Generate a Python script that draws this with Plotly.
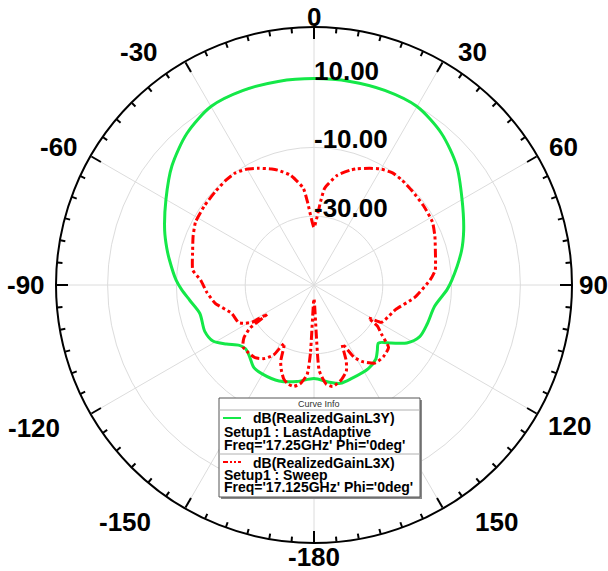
import math
import plotly.graph_objects as go

# ---------------- data ----------------
theta_l3y = [-180, -170, -160, -150, -144, -138, -133, -129, -124, -119, -113, -104, -97, -92, -88,
             -80, -76, -70, -60, -50, -40, -30, -20, -10, 0, 10, 20, 30, 40, 50, 60, 70, 77,
             88, 92, 100, 109, 116, 122, 127, 132, 136, 140, 147, 158, 165, 171, 180]
gain_l3y = [-22.8, -21.5, -20.3, -20.1, -20.3, -22.0, -22.8, -22.1, -19.3, -16.4, -15.5, -15.8, -13.6, -11.5, -9.9,
            -7.3, -5.9, -3.8, -0.3, 3.9, 7.5, 9.9, 10.2, 10.1, 10.0, 10.1, 10.2, 9.9, 7.6, 4.1, -0.3, -3.7, -6.0,
            -9.9, -11.3, -14.4, -15.2, -15.8, -18.2, -22.0, -24.8, -23.5, -22.0, -21.0, -20.7, -20.4, -21.4, -22.8]

theta_l3x = [-180, -177, -175.6, -172, -168.5, -165, -162, -159, -156.4, -153, -150, -146, -141, -136, -131,
             -127, -124, -122, -121, -119, -116.5, -109, -100.5, -94, -87.5, -83, -74, -68, -62, -54, -46.5, -40, -35,
             -30, -25.5, -20, -17.5, -12, -6.3, -4.5, 0, 4.5, 6.3, 12, 17.5, 20, 25.5, 30, 35, 40, 46.5, 54, 62, 68, 74,
             83, 87.5, 97, 107, 113, 119, 121, 123, 126, 130, 136, 142, 148, 151, 154.4, 157, 159.5, 164, 169.6,
             173, 176.5, 180]
gain_l3x = [-46, -30, -23.9, -21, -19.9, -20.3, -21.4, -23.5, -25.8, -31, -26.5, -24.2, -22.8, -22.6, -22.6,
            -24.5, -27.5, -34, -29, -27, -25.5, -24.7, -20.8, -18.8, -17, -14.5, -13.3, -12.1, -11, -10.7, -10.5, -10.2, -10.2,
            -11.1, -12.4, -14.1, -15, -17.4, -21.7, -25.7, -33.2, -25.7, -21.7, -17.4, -15, -14.1, -12.4, -11.1, -10.2, -10.2,
            -10.5, -10.7, -11, -12.1, -13.3,
            -14.5, -16.2, -20.5, -25.3, -26.5, -27.6, -31.5, -28, -25.8, -21.7, -21.0, -21.2, -23.8, -26, -31, -26, -23.2,
            -21.3, -20, -21, -25, -46]

angle_ticks = [0, 30, 60, 90, 120, 150, 180, 210, 240, 270, 300, 330]
angle_labels = ["0", "30", "60", "90", "120", "150", "-180", "-150", "-120", "-90", "-60", "-30"]
minor_ticks = [a for a in range(0, 360, 5) if a % 30 != 0]
radial_ticks = [-30, -10, 10]
radial_labels = ["-30.00", "-10.00", "10.00"]
radial_range = [-50, 25]

series_names = ["dB(RealizedGainL3Y)", "dB(RealizedGainL3X)"]
series_setup = ["Setup1 : LastAdaptive", "Setup1 : Sweep"]
series_freq = ["Freq='17.25GHz' Phi='0deg'", "Freq='17.125GHz' Phi='0deg'"]

GREEN = "rgb(20,232,72)"
RED = "rgb(255,0,0)"
FONT = "Liberation Sans, Arial, sans-serif"

W, H = 608, 571
cx, cy, R = 314, 285, 258


def px(x):
    return x / W


def py(y):
    return 1 - y / H


dom = dict(x=[px(cx - R), px(cx + R)], y=[py(cy + R), py(cy - R)])
label_lift = 1.6  # dB: radial labels sit just above their circle

# angular label placement style: angle -> (distance from centre px, xanchor, horizontal nudge px)
label_style = {
    0: (268, "center", 0), 30: (269, "left", 7), 60: (276, "left", -6), 90: (263, "left", 0),
    120: (282, "left", -12), 150: (274, "left", 22), 180: (272, "center", 0), 210: (274, "right", -24),
    240: (286, "right", -4), 270: (267, "right", 0), 300: (276, "right", 5), 330: (269, "right", -19),
}

fig = go.Figure()
fig.add_trace(go.Scatterpolar(r=gain_l3y, theta=theta_l3y, mode="lines",
                              line=dict(color=GREEN, width=3, shape="spline", smoothing=0.8),
                              subplot="polar", name=series_names[0]))
fig.add_trace(go.Scatterpolar(r=gain_l3x, theta=theta_l3x, mode="lines",
                              line=dict(color=RED, width=3, dash="9px,3px,3px,3px,3px,3px",
                                        shape="spline", smoothing=0.5),
                              subplot="polar", name=series_names[1]))
fig.add_trace(go.Scatterpolar(r=[v + label_lift for v in radial_ticks], theta=[0] * len(radial_ticks),
                              mode="text", text=radial_labels, textposition="middle right",
                              textfont=dict(family=FONT, size=26, color="black", weight="bold"),
                              subplot="polar", hoverinfo="skip"))

fig.update_layout(
    width=W, height=H, margin=dict(l=0, r=0, t=0, b=0),
    paper_bgcolor="white", showlegend=False,
    polar=dict(
        domain=dom, bgcolor="white",
        radialaxis=dict(range=radial_range, tickvals=radial_ticks, showticklabels=False, ticks="",
                        showline=False, gridcolor="#dcdcdc", gridwidth=1, angle=90),
        angularaxis=dict(rotation=90, direction="clockwise", tickvals=angle_ticks, showticklabels=False,
                         ticks="inside", ticklen=11, tickwidth=1.5, tickcolor="black",
                         showline=True, linecolor="black", linewidth=2, gridcolor="#dcdcdc", gridwidth=1),
    ),
    polar2=dict(
        domain=dom, bgcolor="rgba(0,0,0,0)",
        radialaxis=dict(range=radial_range, visible=False, showgrid=False),
        angularaxis=dict(rotation=90, direction="clockwise", tickvals=minor_ticks, ticks="inside",
                         ticklen=5, tickwidth=1.5, tickcolor="black", showticklabels=False,
                         showgrid=False, showline=False),
    ),
)
fig.add_trace(go.Scatterpolar(r=[], theta=[], subplot="polar2", hoverinfo="skip"))

# ---------------- angular tick labels (placed around the polar frame) ----------------
annots = []
for a, lab in zip(angle_ticks, angle_labels):
    dist, xa, nudge = label_style[a]
    x = cx + dist * math.sin(math.radians(a)) + nudge
    y = cy - dist * math.cos(math.radians(a))
    annots.append(dict(text=lab, x=px(x), y=py(y), xanchor=xa, yanchor="middle",
                       font=dict(family=FONT, size=26, color="black", weight="bold")))

# ---------------- legend box (Curve Info) ----------------
bx0, bx1, by0, by1 = 219, 420, 398, 497
shapes = [
    dict(type="rect", xref="paper", yref="paper", x0=px(bx0 + 2), x1=px(bx1 + 2), y0=py(by1 + 2), y1=py(by0 + 2),
         fillcolor="#8a8a8a", line=dict(width=0)),
    dict(type="rect", xref="paper", yref="paper", x0=px(bx0), x1=px(bx1), y0=py(by1), y1=py(by0),
         fillcolor="white", line=dict(color="#555555", width=1)),
    dict(type="line", xref="paper", yref="paper", x0=px(bx0), x1=px(bx1), y0=py(410), y1=py(410),
         line=dict(color="#b0b0b0", width=1)),
    dict(type="line", xref="paper", yref="paper", x0=px(bx0), x1=px(bx1), y0=py(454), y1=py(454),
         line=dict(color="#b0b0b0", width=1)),
    dict(type="line", xref="paper", yref="paper", x0=px(223), x1=px(241), y0=py(418), y1=py(418),
         line=dict(color=GREEN, width=2)),
    dict(type="line", xref="paper", yref="paper", x0=px(223), x1=px(241), y0=py(462), y1=py(462),
         line=dict(color=RED, width=2, dash="5px,2px,2px,2px,2px,2px")),
]
fig.update_layout(shapes=shapes)

annots.append(dict(text="Curve Info", x=px((bx0 + bx1) / 2), y=py(404), xanchor="center", yanchor="middle",
                   font=dict(family=FONT, size=9, color="#333333")))
rows = [(251, 418, series_names[0]), (222, 432, series_setup[0]), (222, 445, series_freq[0]),
        (251, 463, series_names[1]), (222, 475, series_setup[1]), (222, 487, series_freq[1])]
for x, y, t in rows:
    annots.append(dict(text=t, x=px(x), y=py(y), xanchor="left", yanchor="middle",
                       font=dict(family=FONT, size=14, color="black", weight="bold")))
for a in annots:
    a.update(xref="paper", yref="paper", showarrow=False)
fig.update_layout(annotations=annots)

# the page body margin would otherwise shift the 608x571 figure by 8px
fig.write_html("out.html", config={"displayModeBar": False},
               post_script="document.body.style.margin='0';document.body.style.overflow='hidden';")
